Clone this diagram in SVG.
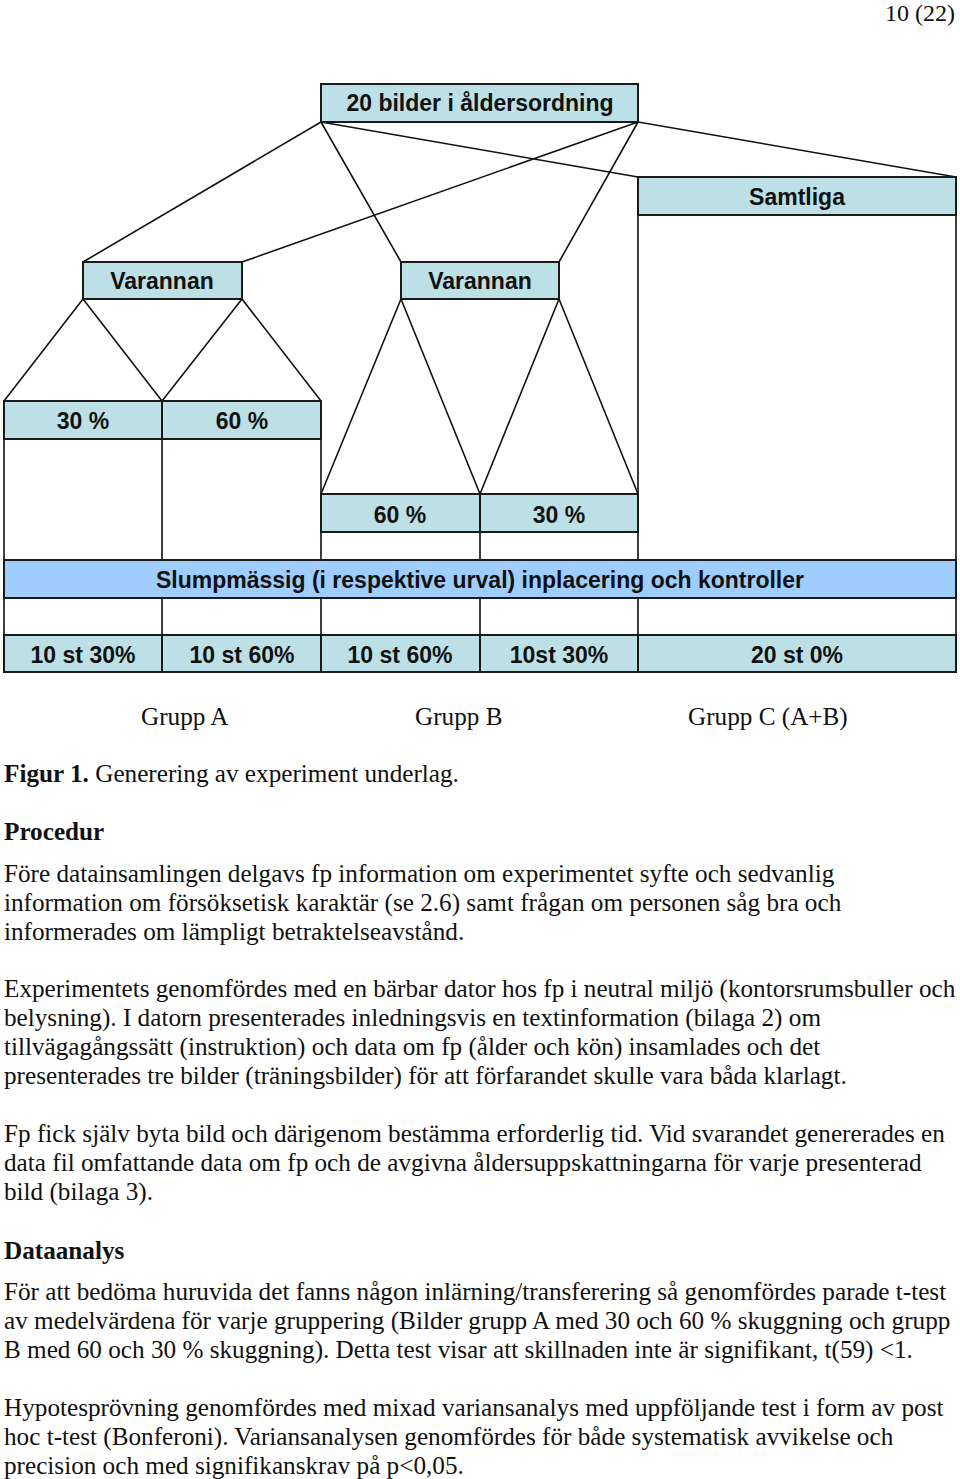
<svg xmlns="http://www.w3.org/2000/svg" width="960" height="1479" viewBox="0 0 960 1479">
<style>
.box{fill:#bce0e5;stroke:#1a1a1a;stroke-width:2}
.slump{fill:#9fcdfd;stroke:#1a1a1a;stroke-width:2}
.bt{font-family:"Liberation Sans",Arial,sans-serif;font-weight:bold;font-size:23px;fill:#111;text-anchor:middle}
.ln{stroke:#111;stroke-width:1.6;fill:none}
.tx{font-family:"Liberation Serif","Times New Roman",serif;font-size:25.2px;fill:#111}
.b{font-weight:bold}
</style>
<rect width="960" height="1479" fill="#fff"/>
<text class="tx" x="955" y="21" text-anchor="end" style="font-size:24px">10 (22)</text>

<g id="connectors">
<path class="ln" d="M321,122 L83,262 M638,122 L242,262 M321,122 L401,262 M638,122 L559,262 M321,122 L638,177 M638,122 L956,177"/>
<path class="ln" d="M83,299 L4,401 M83,299 L162,401 M242,299 L162,401 M242,299 L321,401"/>
<path class="ln" d="M401,299 L321,494 M401,299 L480,494 M559,299 L480,494 M559,299 L638,494"/>
<path class="ln" d="M638,215 V560 M956,215 V560 M4,439 V560 M162,439 V560 M321,439 V560 M321,532 V560 M480,532 V560 M638,532 V560"/>
<path class="ln" d="M4,598 V635 M162,598 V635 M321,598 V635 M480,598 V635 M638,598 V635 M956,598 V635"/>
</g>

<g id="n-top"><rect class="box" x="321" y="84" width="317" height="38"/><text class="bt" x="480" y="111">20 bilder i åldersordning</text></g>
<g id="n-samtliga"><rect class="box" x="638" y="177" width="318" height="38"/><text class="bt" x="797" y="205">Samtliga</text></g>
<g id="n-varannan-a"><rect class="box" x="83" y="262" width="159" height="37"/><text class="bt" x="162" y="289">Varannan</text></g>
<g id="n-varannan-b"><rect class="box" x="401" y="262" width="158" height="37"/><text class="bt" x="480" y="289">Varannan</text></g>
<g id="n-a30"><rect class="box" x="4" y="401" width="158" height="38"/><text class="bt" x="83" y="429">30 %</text></g>
<g id="n-a60"><rect class="box" x="162" y="401" width="159" height="38"/><text class="bt" x="242" y="429">60 %</text></g>
<g id="n-b60"><rect class="box" x="321" y="494" width="159" height="38"/><text class="bt" x="400" y="523">60 %</text></g>
<g id="n-b30"><rect class="box" x="480" y="494" width="158" height="38"/><text class="bt" x="559" y="523">30 %</text></g>
<g id="n-slump"><rect class="slump" x="4" y="560" width="952" height="38"/><text class="bt" x="480" y="588">Slumpmässig (i respektive urval) inplacering och kontroller</text></g>
<g id="n-r1"><rect class="box" x="4" y="635" width="158" height="37"/><text class="bt" x="83" y="663">10 st 30%</text></g>
<g id="n-r2"><rect class="box" x="162" y="635" width="159" height="37"/><text class="bt" x="242" y="663">10 st 60%</text></g>
<g id="n-r3"><rect class="box" x="321" y="635" width="159" height="37"/><text class="bt" x="400" y="663">10 st 60%</text></g>
<g id="n-r4"><rect class="box" x="480" y="635" width="158" height="37"/><text class="bt" x="559" y="663">10st 30%</text></g>
<g id="n-r5"><rect class="box" x="638" y="635" width="318" height="37"/><text class="bt" x="797" y="663">20 st 0%</text></g>

<g id="body">
<text class="tx" x="141" y="725">Grupp A</text>
<text class="tx" x="415" y="725">Grupp B</text>
<text class="tx" x="688" y="725">Grupp C (A+B)</text>
<text class="tx" x="4" y="782"><tspan class="b">Figur 1.</tspan> Generering av experiment underlag.</text>
<text class="tx b" x="4" y="840">Procedur</text>
<text class="tx" x="4" y="882">Före datainsamlingen delgavs fp information om experimentet syfte och sedvanlig</text>
<text class="tx" x="4" y="911">information om försöksetisk karaktär (se 2.6) samt frågan om personen såg bra och</text>
<text class="tx" x="4" y="940">informerades om lämpligt betraktelseavstånd.</text>
<text class="tx" x="4" y="997">Experimentets genomfördes med en bärbar dator hos fp i neutral miljö (kontorsrumsbuller och</text>
<text class="tx" x="4" y="1026">belysning). I datorn presenterades inledningsvis en textinformation (bilaga 2) om</text>
<text class="tx" x="4" y="1055">tillvägagångssätt (instruktion) och data om fp (ålder och kön) insamlades och det</text>
<text class="tx" x="4" y="1084">presenterades tre bilder (träningsbilder) för att förfarandet skulle vara båda klarlagt.</text>
<text class="tx" x="4" y="1142">Fp fick själv byta bild och därigenom bestämma erforderlig tid. Vid svarandet genererades en</text>
<text class="tx" x="4" y="1171">data fil omfattande data om fp och de avgivna åldersuppskattningarna för varje presenterad</text>
<text class="tx" x="4" y="1200">bild (bilaga 3).</text>
<text class="tx b" x="4" y="1259">Dataanalys</text>
<text class="tx" x="4" y="1300">För att bedöma huruvida det fanns någon inlärning/transferering så genomfördes parade t-test</text>
<text class="tx" x="4" y="1329">av medelvärdena för varje gruppering (Bilder grupp A med 30 och 60 % skuggning och grupp</text>
<text class="tx" x="4" y="1358">B med 60 och 30 % skuggning). Detta test visar att skillnaden inte är signifikant, t(59) &lt;1.</text>
<text class="tx" x="4" y="1416">Hypotesprövning genomfördes med mixad variansanalys med uppföljande test i form av post</text>
<text class="tx" x="4" y="1445">hoc t-test (Bonferoni). Variansanalysen genomfördes för både systematisk avvikelse och</text>
<text class="tx" x="4" y="1474">precision och med signifikanskrav på p&lt;0,05.</text>
</g>
</svg>
